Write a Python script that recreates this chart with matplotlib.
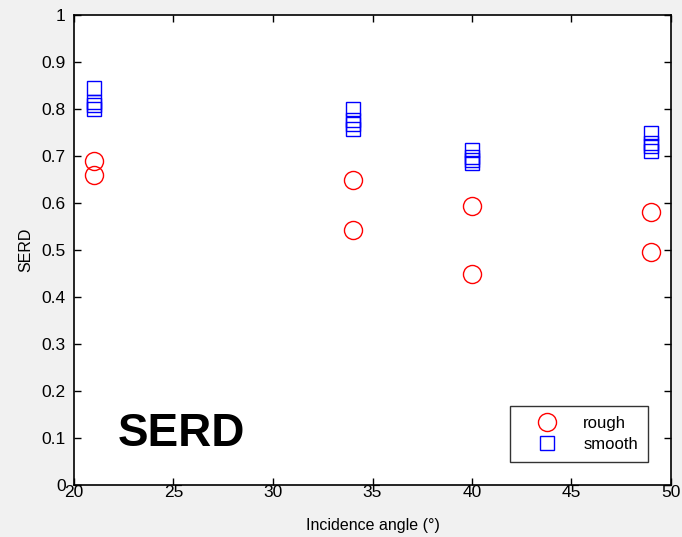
import matplotlib
matplotlib.use("Agg")
import matplotlib.pyplot as plt

plt.rcParams['font.family'] = ['Liberation Sans', 'DejaVu Sans']

# Incidence angles and SERD values per surface type
rough_angle = [21, 21, 34, 34, 40, 40, 49, 49]
rough_serd = [0.690, 0.660, 0.650, 0.543, 0.593, 0.449, 0.580, 0.496]

smooth_angle = [21, 21, 21, 21, 34, 34, 34, 34, 40, 40, 40, 40, 49, 49, 49, 49]
smooth_serd = [0.844, 0.814, 0.808, 0.800,
               0.799, 0.777, 0.769, 0.757,
               0.712, 0.698, 0.691, 0.685,
               0.749, 0.728, 0.721, 0.710]

x_ticks = [20, 25, 30, 35, 40, 45, 50]
y_ticks = [0, 0.1, 0.2, 0.3, 0.4, 0.5, 0.6, 0.7, 0.8, 0.9, 1]
y_tick_labels = ['0', '0.1', '0.2', '0.3', '0.4', '0.5', '0.6', '0.7', '0.8', '0.9', '1']

fig = plt.figure(figsize=(6.82, 5.37), dpi=100, facecolor='#f1f1f1')
ax = fig.add_axes([74 / 682, 52 / 537, 597 / 682, 470 / 537])
ax.set_facecolor('white')

ax.plot(rough_angle, rough_serd, linestyle='none', marker='o', markersize=13,
        markerfacecolor='none', markeredgecolor='#ff0000', markeredgewidth=1.0,
        label='rough')
ax.plot(smooth_angle, smooth_serd, linestyle='none', marker='s', markersize=10.5,
        markerfacecolor='none', markeredgecolor='#0000ff', markeredgewidth=1.0,
        label='smooth')

ax.set_xlim(20, 50)
ax.set_ylim(0, 1)
ax.set_xticks(x_ticks)
ax.set_yticks(y_ticks)
ax.set_yticklabels(y_tick_labels)
ax.tick_params(direction='in', length=5, width=1, top=True, right=True,
               labelsize=12.5)
ax.tick_params(axis='x', pad=0)
ax.tick_params(axis='y', pad=6)
for s in ax.spines.values():
    s.set_linewidth(1.2)

ax.set_xlabel('Incidence angle (°)', fontsize=11.5, labelpad=13)
ax.set_ylabel('SERD', fontsize=11.5, labelpad=6)

ax.text(25.4, 0.108, 'SERD', fontsize=33, fontweight='bold', ha='center',
        va='center')

leg = ax.legend(loc='lower right', bbox_to_anchor=(0.9615, 0.049), fontsize=12,
                frameon=True, fancybox=False, edgecolor='black',
                borderaxespad=0, borderpad=0.6, handletextpad=0.6,
                labelspacing=0.38, handlelength=3.2)
leg.get_frame().set_linewidth(1.0)

fig.savefig('out.png', dpi=100, facecolor=fig.get_facecolor())
